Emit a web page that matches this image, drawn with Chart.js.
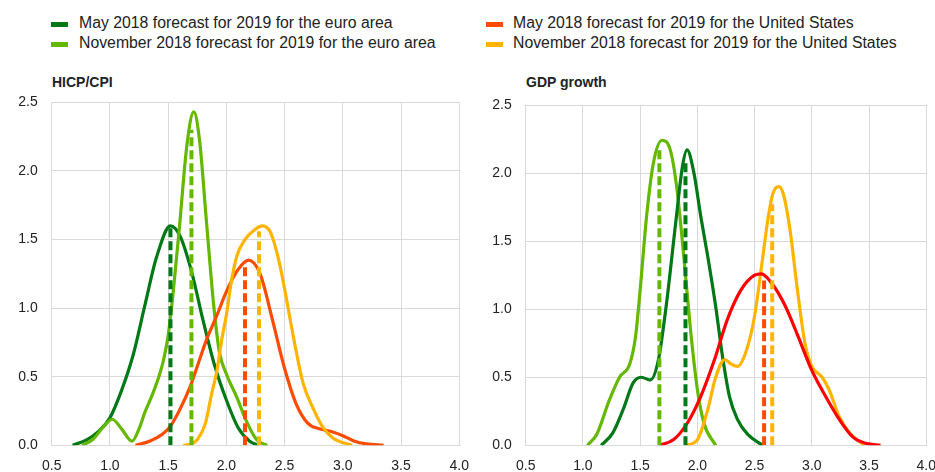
<!DOCTYPE html>
<html>
<head>
<meta charset="utf-8">
<script src="https://cdn.jsdelivr.net/npm/chart.js@4.4.1/dist/chart.umd.min.js"></script>
<style>
  body { margin: 0; background: #fff; font-family: Arial, "Liberation Sans", sans-serif; color: #222; }
  #wrap { position: relative; width: 935px; height: 472px; overflow: hidden; }
  .key { position: absolute; width: 17px; height: 5px; }
  .lbl { position: absolute; font-size: 15.8px; line-height: 16px; white-space: nowrap; }
  .ttl { position: absolute; font-size: 14px; line-height: 14px; font-weight: bold; }
  canvas { position: absolute; }
</style>
</head>
<body>
<div id="wrap">
  <div class="key" style="left:51px;top:22px;background:#007816"></div>
  <div class="lbl" style="left:79px;top:15px">May 2018 forecast for 2019 for the euro area</div>
  <div class="key" style="left:51px;top:42px;background:#65b800"></div>
  <div class="lbl" style="left:79px;top:35px">November 2018 forecast for 2019 for the euro area</div>
  <div class="key" style="left:486px;top:22px;background:#ff4b00"></div>
  <div class="lbl" style="left:513px;top:15px">May 2018 forecast for 2019 for the United States</div>
  <div class="key" style="left:486px;top:42px;background:#ffb400"></div>
  <div class="lbl" style="left:513px;top:35px">November 2018 forecast for 2019 for the United States</div>

  <div class="ttl" style="left:52px;top:75px">HICP/CPI</div>
  <div class="ttl" style="left:526px;top:75px">GDP growth</div>

  <canvas id="hicp" width="481" height="402" style="left:0;top:70px"></canvas>
  <canvas id="gdp" width="478" height="402" style="left:470px;top:70px"></canvas>
</div>

<script>
/* COLOURS */

const darkGreen = "#007816";
const lightGreen = "#65b800";
const orange = "#ff4b00";
const yellow = "#ffb400";
const red = "#ff0000";

/* HICP/CPI DENSITIES */

const hicpMayEaX = [0.68, 0.8, 0.9, 1.0, 1.1, 1.2, 1.3, 1.4, 1.52, 1.6, 1.7, 1.8, 1.9, 2.0, 2.1, 2.2, 2.28];
const hicpMayEaY = [0, 0.04, 0.1, 0.2, 0.4, 0.66, 1.02, 1.37, 1.6, 1.53, 1.27, 0.91, 0.58, 0.33, 0.13, 0.03, 0];

const hicpNovEaX = [0.76, 0.85, 0.95, 1.02, 1.1, 1.19, 1.25, 1.3, 1.36, 1.42, 1.46, 1.5, 1.545, 1.6, 1.66, 1.72, 1.77, 1.83, 1.89, 1.94, 2.0, 2.09, 2.17, 2.26, 2.35];
const hicpNovEaY = [0, 0.04, 0.14, 0.19, 0.12, 0.03, 0.12, 0.24, 0.36, 0.5, 0.62, 0.8, 1.13, 1.62, 2.18, 2.43, 2.22, 1.62, 1.03, 0.68, 0.52, 0.35, 0.18, 0.04, 0];

const hicpMayUsX = [1.22, 1.34, 1.45, 1.52, 1.6, 1.69, 1.76, 1.83, 1.92, 2.0, 2.1, 2.19, 2.29, 2.4, 2.5, 2.6, 2.7, 2.8, 2.9, 3.0, 3.1, 3.2, 3.35];
const hicpMayUsY = [0, 0.03, 0.08, 0.14, 0.26, 0.43, 0.6, 0.77, 0.95, 1.12, 1.28, 1.35, 1.25, 0.9, 0.56, 0.3, 0.16, 0.12, 0.1, 0.07, 0.03, 0.01, 0];

const hicpNovUsX = [1.63, 1.7, 1.75, 1.82, 1.87, 1.92, 1.96, 2.0, 2.04, 2.09, 2.16, 2.24, 2.31, 2.38, 2.45, 2.5, 2.58, 2.66, 2.75, 2.83, 2.92, 3.08];
const hicpNovUsY = [0, 0.01, 0.04, 0.16, 0.36, 0.55, 0.77, 0.95, 1.18, 1.38, 1.5, 1.57, 1.6, 1.55, 1.35, 1.14, 0.77, 0.45, 0.26, 0.13, 0.05, 0];

/* HICP/CPI MEANS (x, height) */

const hicpMeanX = [1.52, 1.70, 2.16, 2.28];
const hicpMeanTop = [1.6, 2.3, 1.33, 1.56];

/* GDP DENSITIES */

const gdpMayEaX = [1.16, 1.26, 1.35, 1.44, 1.51, 1.59, 1.66, 1.73, 1.81, 1.87, 1.91, 1.97, 2.03, 2.09, 2.16, 2.22, 2.28, 2.35, 2.44, 2.57];
const gdpMayEaY = [0, 0.09, 0.26, 0.46, 0.5, 0.48, 0.63, 1.04, 1.63, 2.05, 2.17, 2.0, 1.68, 1.39, 1.02, 0.65, 0.36, 0.19, 0.08, 0];

const gdpNovEaX = [1.04, 1.12, 1.23, 1.32, 1.41, 1.46, 1.5, 1.556, 1.615, 1.69, 1.763, 1.822, 1.881, 1.94, 2.0, 2.058, 2.16];
const gdpNovEaY = [0, 0.08, 0.33, 0.5, 0.6, 0.8, 1.14, 1.68, 2.07, 2.24, 2.17, 1.88, 1.39, 0.85, 0.41, 0.16, 0];

const gdpMayUsX = [1.67, 1.79, 1.91, 2.03, 2.15, 2.26, 2.38, 2.5, 2.56, 2.65, 2.77, 2.88, 3.0, 3.12, 3.24, 3.36, 3.47, 3.6];
const gdpMayUsY = [0, 0.04, 0.16, 0.36, 0.63, 0.92, 1.14, 1.25, 1.26, 1.19, 1.02, 0.8, 0.55, 0.36, 0.19, 0.06, 0.015, 0];

const gdpNovUsX = [1.9, 2.0, 2.09, 2.16, 2.24, 2.29, 2.35, 2.43, 2.5, 2.56, 2.62, 2.66, 2.71, 2.75, 2.81, 2.87, 2.94, 3.0, 3.09, 3.15, 3.24, 3.33, 3.46];
const gdpNovUsY = [0, 0.04, 0.26, 0.5, 0.63, 0.6, 0.58, 0.7, 0.95, 1.31, 1.68, 1.85, 1.9, 1.85, 1.58, 1.17, 0.75, 0.58, 0.5, 0.41, 0.21, 0.09, 0];

/* GDP MEANS (x, height) */

const gdpMeanX = [1.896, 1.668, 2.583, 2.654];
const gdpMeanTop = [2.08, 2.18, 1.21, 1.77];

/* AXES */

const xMin = 0.5, xMax = 4.0, xStep = 0.5;
const yMin = 0, yMax = 2.5, yStep = 0.5;

/* HELPERS */

Chart.defaults.font.family = "Arial, 'Liberation Sans', sans-serif";
Chart.defaults.font.size = 14;
Chart.defaults.color = "#222";

function pts(xs, ys) {
  return xs.map((x, i) => ({ x: x, y: ys[i] }));
}

function curve(xs, ys, color) {
  return {
    data: pts(xs, ys),
    borderColor: color,
    borderWidth: 3.2,
    pointRadius: 0,
    tension: 0.4,
    cubicInterpolationMode: "monotone",
    order: 1
  };
}

function meanLine(x, top, color) {
  return {
    data: [{ x: x, y: 0 }, { x: x, y: top }],
    borderColor: color,
    borderWidth: 4,
    borderDash: [9, 4],
    borderCapStyle: "butt",
    pointRadius: 0,
    order: 0
  };
}

function createChart(id, datasets, yWidth, padTop) {
  return new Chart(document.getElementById(id), {
    type: "line",
    data: { datasets: datasets },
    options: {
      responsive: false,
      animation: false,
      layout: { padding: { top: padTop, right: 0, left: 0, bottom: 0 } },
      plugins: { legend: { display: false }, tooltip: { enabled: false } },
      scales: {
        x: {
          type: "linear",
          min: xMin,
          max: xMax,
          afterFit: (s) => { s.height = 26.7; },
          ticks: { stepSize: xStep, padding: 12, maxRotation: 0, callback: (v) => v.toFixed(1) },
          grid: { color: "#d9d9d9", drawTicks: false },
          border: { color: "#d9d9d9" }
        },
        y: {
          min: yMin,
          max: yMax,
          afterFit: (s) => { s.width = yWidth; },
          ticks: { stepSize: yStep, padding: 14, callback: (v) => v.toFixed(1) },
          grid: { color: "#d9d9d9", drawTicks: false },
          border: { color: "#d9d9d9" }
        }
      }
    }
  });
}

/* CHARTS */

const hicpChart = createChart("hicp", [
  meanLine(hicpMeanX[0], hicpMeanTop[0], darkGreen),
  meanLine(hicpMeanX[1], hicpMeanTop[1], lightGreen),
  meanLine(hicpMeanX[2], hicpMeanTop[2], orange),
  meanLine(hicpMeanX[3], hicpMeanTop[3], yellow),
  curve(hicpNovUsX, hicpNovUsY, yellow),
  curve(hicpMayUsX, hicpMayUsY, orange),
  curve(hicpNovEaX, hicpNovEaY, lightGreen),
  curve(hicpMayEaX, hicpMayEaY, darkGreen)
], 51.7, 32.3);

const gdpChart = createChart("gdp", [
  meanLine(gdpMeanX[0], gdpMeanTop[0], darkGreen),
  meanLine(gdpMeanX[1], gdpMeanTop[1], lightGreen),
  meanLine(gdpMeanX[2], gdpMeanTop[2], orange),
  meanLine(gdpMeanX[3], gdpMeanTop[3], yellow),
  curve(gdpMayUsX, gdpMayUsY, red),
  curve(gdpNovUsX, gdpNovUsY, yellow),
  curve(gdpMayEaX, gdpMayEaY, darkGreen),
  curve(gdpNovEaX, gdpNovEaY, lightGreen)
], 55.7, 35);
</script>
</body>
</html>
